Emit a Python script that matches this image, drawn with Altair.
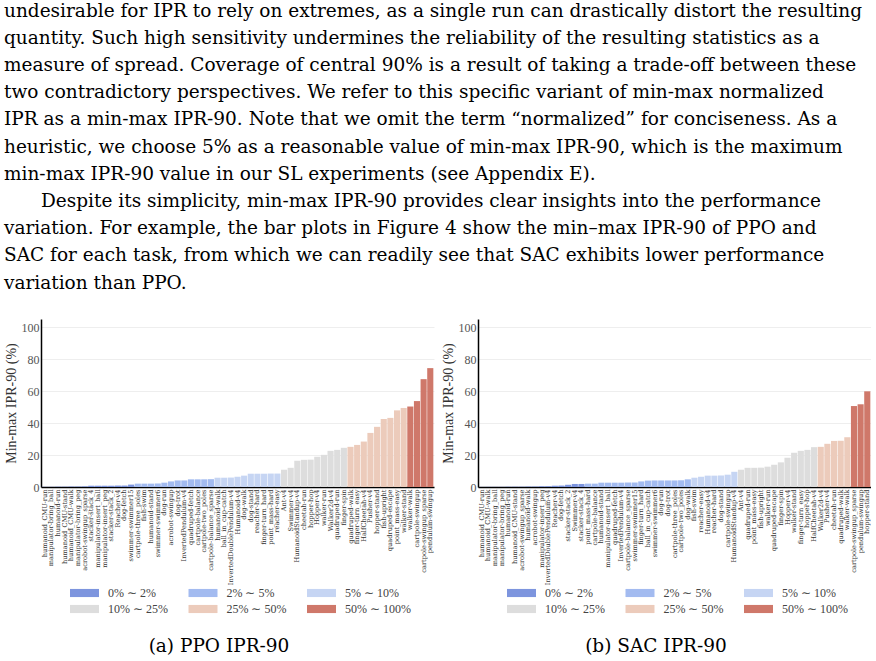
import altair as alt
import pandas as pd

FONT = "Liberation Serif"
TEXT_FONT = "DejaVu Serif"

PARAGRAPH = [
    "undesirable for IPR to rely on extremes, as a single run can drastically distort the resulting",
    "quantity.  Such high sensitivity undermines the reliability of the resulting statistics as a",
    "measure of spread. Coverage of central 90% is a result of taking a trade-off between these",
    "two contradictory perspectives.  We refer to this specific variant of min-max normalized",
    "IPR as a min-max IPR-90. Note that we omit the term \u201cnormalized\u201d for conciseness. As a",
    "heuristic, we choose 5% as a reasonable value of min-max IPR-90, which is the maximum",
    "min-max IPR-90 value in our SL experiments (see Appendix E).",
    "\u200c\u2003\u2003Despite its simplicity, min-max IPR-90 provides clear insights into the performance",
    "variation.  For example, the bar plots in Figure 4 show the min\u2013max IPR-90 of PPO and",
    "SAC for each task, from which we can readily see that SAC exhibits lower performance",
    "variation than PPO.",
]

CAPTIONS = ["(a) PPO IPR-90", "(b) SAC IPR-90"]
Y_TITLE = "Min-max IPR-90 (%)"
Y_TICKS = [0, 20, 40, 60, 80, 100]

BIN_LABELS = ["0% \u223c 2%", "2% \u223c 5%", "5% \u223c 10%",
              "10% \u223c 25%", "25% \u223c 50%", "50% \u223c 100%"]
BIN_EDGES = [2, 5, 10, 25, 50]
BAR_COLORS = ["#7d95de", "#a3bbf0", "#c6d5f3", "#dddddd", "#eccbbb", "#cf786a"]
LEGEND_COLORS = ["#6f8de8", "#98b8fb", "#c4d5f6", "#dcdcdc", "#f6c6ae", "#e06d5a"]

PPO_TASKS = [
    "humanoid_CMU-run", "manipulator-bring_ball", "humanoid-run", "humanoid_CMU-stand",
    "humanoid_CMU-walk", "manipulator-bring_peg", "acrobot-swingup_sparse", "stacker-stack_4",
    "manipulator-insert_ball", "manipulator-insert_peg", "stacker-stack_2", "Reacher-v4",
    "dog-fetch", "swimmer-swimmer15",
    "cartpole-three_poles", "fish-swim", "humanoid-stand", "swimmer-swimmer6", "dog-run",
    "acrobot-swingup", "dog-trot", "InvertedPendulum-v4", "quadruped-fetch", "cartpole-balance",
    "cartpole-two_poles", "cartpole-balance_sparse",
    "humanoid-walk", "ball_in_cup-catch", "InvertedDoublePendulum-v4", "Humanoid-v4", "dog-walk",
    "dog-stand", "reacher-hard", "finger-turn_hard", "point_mass-hard", "reacher-easy",
    "Ant-v4", "Swimmer-v4", "HumanoidStandup-v4", "cheetah-run", "hopper-hop", "Hopper-v4",
    "walker-run", "Walker2d-v4", "quadruped-run", "finger-spin",
    "quadruped-walk", "finger-turn_easy", "HalfCheetah-v4", "Pusher-v4", "hopper-stand",
    "fish-upright", "quadruped-escape", "point_mass-easy", "walker-stand",
    "walker-walk", "cartpole-swingup", "cartpole-swingup_sparse", "pendulum-swingup",
]
PPO_VALUES = [
    0.1, 0.1, 0.2, 0.2, 0.3, 0.3, 0.4, 0.8, 0.8, 0.8, 0.8, 0.9, 0.9, 1.5,
    2.1, 2.1, 2.1, 2.2, 2.7, 3.5, 4.1, 4.1, 4.8, 4.8, 4.8, 4.9,
    5.8, 5.8, 5.9, 6.4, 7.1, 8.3, 8.3, 8.3, 8.4, 8.4,
    10.8, 12.0, 16.4, 17.0, 17.1, 18.9, 20.1, 22.6, 23.2, 24.5,
    25.1, 26.3, 28.4, 33.8, 37.6, 42.5, 43.2, 47.9, 49.4,
    50.3, 53.7, 67.4, 74.3,
]

SAC_TASKS = [
    "humanoid_CMU-run", "humanoid_CMU-walk", "manipulator-bring_ball", "manipulator-bring_peg",
    "humanoid-run", "humanoid_CMU-stand", "acrobot-swingup_sparse", "humanoid-walk",
    "acrobot-swingup", "manipulator-insert_peg", "InvertedDoublePendulum-v4", "Reacher-v4",
    "dog-fetch", "stacker-stack_2", "Swimmer-v4", "stacker-stack_4",
    "point_mass-hard", "cartpole-balance", "humanoid-stand", "manipulator-insert_ball",
    "quadruped-fetch", "InvertedPendulum-v4", "cartpole-balance_sparse", "swimmer-swimmer15",
    "finger-turn_hard", "ball_in_cup-catch", "swimmer-swimmer6", "dog-run", "dog-trot",
    "cartpole-three_poles", "cartpole-two_poles", "dog-walk",
    "fish-swim", "reacher-easy", "Humanoid-v4", "reacher-hard", "dog-stand",
    "cartpole-swingup", "HumanoidStandup-v4",
    "Ant-v4", "quadruped-run", "point_mass-easy", "fish-upright", "walker-run",
    "quadruped-escape", "finger-spin", "Hopper-v4", "walker-stand", "finger-turn_easy",
    "hopper-hop", "HalfCheetah-v4",
    "Walker2d-v4", "Pusher-v4", "cheetah-run", "quadruped-walk", "walker-walk",
    "cartpole-swingup_sparse", "pendulum-swingup", "hopper-stand",
]
SAC_VALUES = [
    0.05, 0.1, 0.1, 0.1, 0.2, 0.2, 0.2, 0.3, 0.3, 0.4, 0.5, 0.8, 0.9, 1.4, 1.9, 1.9,
    2.1, 2.1, 2.7, 2.7, 2.7, 2.7, 2.8, 2.8, 3.5, 4.0, 4.1, 4.1, 4.1, 4.1, 4.2, 4.8,
    5.8, 6.4, 7.1, 7.1, 7.2, 7.7, 9.5,
    10.8, 12.0, 12.0, 12.1, 12.7, 13.9, 15.4, 18.3, 21.4, 22.6, 23.2, 24.9,
    25.1, 27.0, 28.8, 28.9, 31.1,
    50.6, 51.7, 59.8,
]

PLOT_W = 393
PLOT_H = 168


def bin_of(v):
    for i, edge in enumerate(BIN_EDGES):
        if v < edge:
            return BIN_LABELS[i]
    return BIN_LABELS[-1]


def bar_chart(tasks, values):
    df = pd.DataFrame({"task": tasks, "ipr": values,
                       "bin": [bin_of(v) for v in values]})
    return alt.Chart(df).mark_bar().encode(
        x=alt.X("task:N", sort=None,
                scale=alt.Scale(paddingInner=0.08, paddingOuter=0.1),
                axis=alt.Axis(title=None, labelAngle=-90, labelFontSize=6.6,
                              labelFont=TEXT_FONT, labelColor="#333", ticks=False,
                              labelPadding=2, domainColor="black", domainWidth=1.5,
                              labelOverlap=False, labelLimit=300, grid=False)),
        y=alt.Y("ipr:Q", scale=alt.Scale(domain=[0, 105], nice=False),
                axis=alt.Axis(values=Y_TICKS, title=Y_TITLE, titleFont=FONT,
                              titleFontSize=14, titleFontWeight="normal",
                              titleColor="#333", titlePadding=3,
                              labelFont=FONT, labelFontSize=12, labelColor="#555",
                              labelPadding=2, ticks=False, domainColor="black",
                              domainWidth=1.5, gridColor="#eeeeee", gridWidth=1)),
        color=alt.Color("bin:N", scale=alt.Scale(domain=BIN_LABELS, range=BAR_COLORS),
                        legend=None),
    ).properties(width=PLOT_W, height=PLOT_H)


def legend_chart():
    df = pd.DataFrame({"bin": BIN_LABELS,
                       "col": [i % 3 for i in range(len(BIN_LABELS))],
                       "row": [i // 3 for i in range(len(BIN_LABELS))]})
    base = alt.Chart(df).encode(
        x=alt.X("col:Q", scale=alt.Scale(domain=[0, PLOT_W / 118.5], nice=False, zero=False),
                axis=None),
        y=alt.Y("row:O", axis=None),
    )
    swatch = base.mark_point(shape="M-1,-0.28H1V0.28H-1Z", size=841, filled=True,
                             opacity=1, xOffset=43.5).encode(
        color=alt.Color("bin:N", scale=alt.Scale(domain=BIN_LABELS, range=LEGEND_COLORS),
                        legend=None))
    label = base.mark_text(align="left", baseline="middle", font=FONT, fontSize=12,
                           color="#444", xOffset=67).encode(text="bin:N")
    return (swatch + label).properties(width=PLOT_W, height=32)


def panel(tasks, values, caption):
    return alt.vconcat(
        bar_chart(tasks, values), legend_chart(), spacing=0,
    ).properties(title=alt.Title(caption, orient="bottom", anchor="middle", font=TEXT_FONT,
                                 fontSize=18.5, fontWeight="normal", color="black",
                                 offset=20))


chart = alt.hconcat(
    panel(PPO_TASKS, PPO_VALUES, CAPTIONS[0]),
    panel(SAC_TASKS, SAC_VALUES, CAPTIONS[1]),
    spacing=7,
).properties(
    title=alt.Title(PARAGRAPH, anchor="start", font=TEXT_FONT, fontSize=18.5,
                    fontWeight="normal", color="black", lineHeight=27.2, offset=27),
    padding={"left": 4, "top": 1, "right": 0, "bottom": 0},
).configure_view(stroke=None).configure_concat(spacing=7).configure_title(
    font=TEXT_FONT, fontWeight="normal")

chart.save("out.html", embed_options={"renderer": "svg", "actions": False})
